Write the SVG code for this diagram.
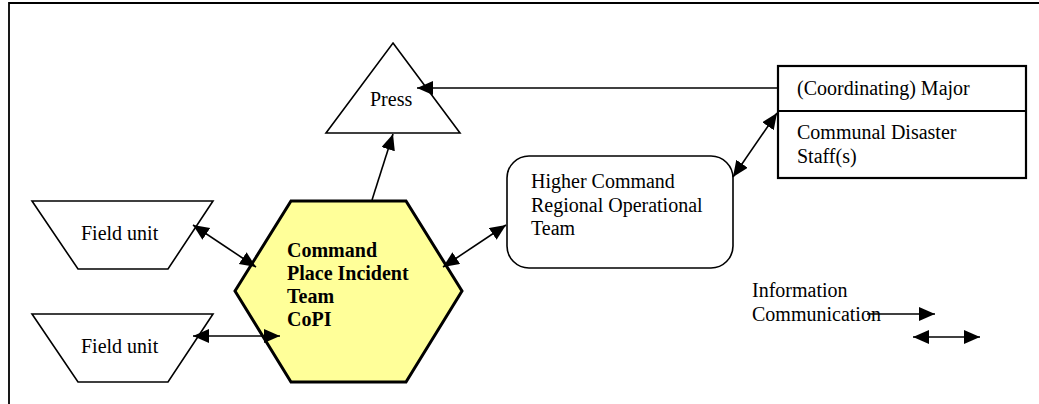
<svg xmlns="http://www.w3.org/2000/svg" width="1039" height="404" viewBox="0 0 1039 404">
  <style>
    .shape { fill: #ffffff; stroke: #000000; stroke-width: 1.6; }
    .hex { fill: #ffff99; stroke: #000000; stroke-width: 3; }
    .box { fill: #ffffff; stroke: #000000; stroke-width: 2.2; }
    .lbl { font-family: "Liberation Serif", "Times New Roman", serif; font-size: 20px; fill: #000000; }
    .bold { font-weight: bold; }
    .conn { fill: none; stroke: #000000; stroke-width: 1.6; }
    .one { marker-end: url(#head); }
    .two { marker-start: url(#head); marker-end: url(#head); }
  </style>
  <defs>
    <marker id="head" markerUnits="userSpaceOnUse" markerWidth="17" markerHeight="15" refX="16" refY="7" orient="auto-start-reverse">
      <path d="M0,0 L16,7 L0,14 z" fill="#000000"/>
    </marker>
  </defs>

  <rect width="1039" height="404" fill="#ffffff"/>

  <!-- page frame -->
  <path d="M9,404 V3 H1039" fill="none" stroke="#000000" stroke-width="1.8"/>

  <g id="press">
    <polygon class="shape" points="393,43 460,133 326,133"/>
    <text class="lbl" x="370" y="106">Press</text>
  </g>

  <g id="field-unit-1">
    <polygon class="shape" points="32,201 213,201 168,269 78,269"/>
    <text class="lbl" x="81" y="240">Field unit</text>
  </g>

  <g id="field-unit-2">
    <polygon class="shape" points="32,314 213,314 168,382 78,382"/>
    <text class="lbl" x="81" y="353">Field unit</text>
  </g>

  <g id="copi">
    <polygon class="hex" points="291,201 406,201 462,291 406,382 291,382 235,291"/>
    <text class="lbl bold" x="287" y="257">Command</text>
    <text class="lbl bold" x="287" y="280">Place Incident</text>
    <text class="lbl bold" x="287" y="303">Team</text>
    <text class="lbl bold" x="287" y="326">CoPI</text>
  </g>

  <g id="rot">
    <rect class="shape" x="507" y="156" width="226" height="112" rx="22" ry="22"/>
    <text class="lbl" x="531" y="188">Higher Command</text>
    <text class="lbl" x="531" y="212">Regional Operational</text>
    <text class="lbl" x="531" y="235">Team</text>
  </g>

  <g id="mayor">
    <rect class="box" x="778" y="66" width="248" height="112"/>
    <line x1="778" y1="111" x2="1026" y2="111" stroke="#000000" stroke-width="2.2"/>
    <text class="lbl" x="797" y="95">(Coordinating) Major</text>
    <text class="lbl" x="797" y="139">Communal Disaster</text>
    <text class="lbl" x="797" y="163">Staff(s)</text>
  </g>

  <g id="legend">
    <text class="lbl" x="752" y="297">Information</text>
    <text class="lbl" x="752" y="321">Communication</text>
  </g>

  <g id="connectors">
    <line class="conn one" x1="778" y1="88" x2="417" y2="88"/>
    <line class="conn one" x1="372" y1="200" x2="393" y2="134"/>
    <line class="conn two" x1="193" y1="225" x2="256" y2="267"/>
    <line class="conn two" x1="193" y1="336" x2="280" y2="336"/>
    <line class="conn two" x1="443" y1="267" x2="506" y2="225"/>
    <line class="conn two" x1="733" y1="177" x2="777" y2="113"/>
    <line class="conn one" x1="867" y1="314" x2="935" y2="314"/>
    <line class="conn two" x1="913" y1="337" x2="980" y2="337"/>
  </g>
</svg>
